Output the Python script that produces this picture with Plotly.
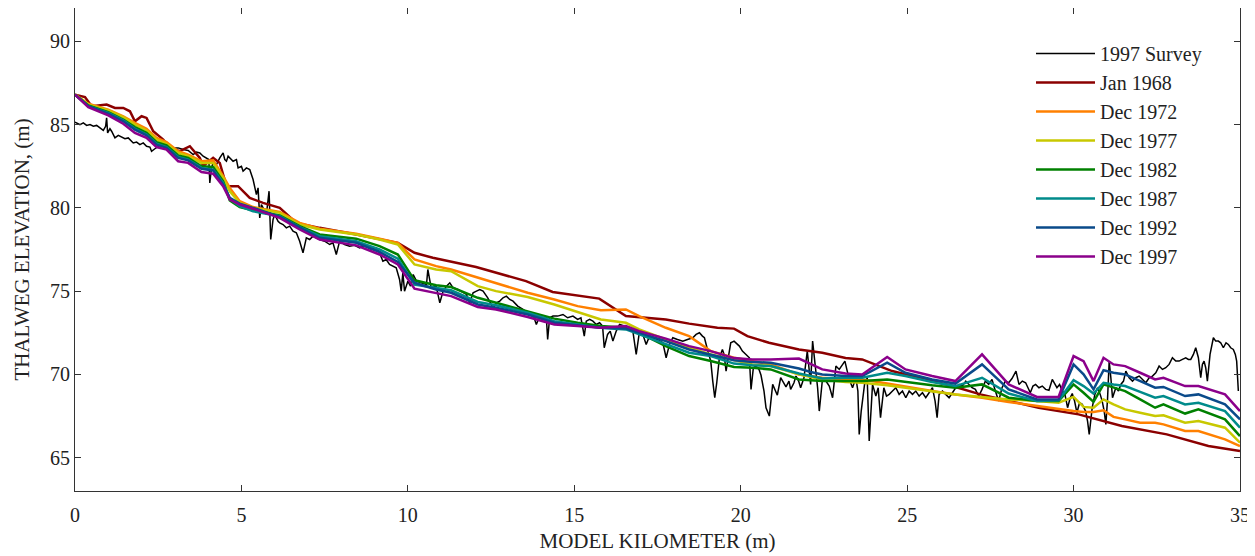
import plotly.graph_objects as go

# ---------------- data ----------------
SERIES_NAMES = ["1997 Survey", "Jan 1968", "Dec 1972", "Dec 1977", "Dec 1982",
                "Dec 1987", "Dec 1992", "Dec 1997"]
COLORS = ["#000000", "#8b0000", "#ff8000", "#c8c800", "#008000",
          "#008b8b", "#0a4a8a", "#8b008b"]

SURVEY_KM = [0.0, 0.08, 0.15, 0.25, 0.35, 0.45, 0.55, 0.65, 0.75, 0.85, 0.92, 0.95, 0.98, 1.05, 1.1, 1.2, 1.3, 1.4, 1.5, 1.6,
             1.75, 1.85, 1.95, 2.05, 2.15, 2.25, 2.3, 2.4, 2.45, 2.55, 2.65, 2.8, 2.95, 3.1, 3.25, 3.4, 3.55, 3.65, 3.75, 3.85,
             3.95, 4.02, 4.05, 4.1, 4.15, 4.25, 4.35, 4.45, 4.5, 4.55, 4.6, 4.65, 4.75, 4.85, 4.9, 5.0, 5.05, 5.15, 5.25, 5.3,
             5.35, 5.45, 5.5, 5.55, 5.6, 5.65, 5.75, 5.83, 5.88, 5.95, 6.0, 6.1, 6.15, 6.25, 6.35, 6.45, 6.55, 6.65, 6.75, 6.85,
             6.95, 7.05, 7.15, 7.25, 7.35, 7.5, 7.65, 7.75, 7.85, 7.95, 8.1, 8.25, 8.4, 8.55, 8.65, 8.75, 8.9, 9.05, 9.15, 9.25,
             9.35, 9.45, 9.55, 9.65, 9.75, 9.8, 9.85, 9.9, 10.0, 10.08, 10.16, 10.26, 10.4, 10.56, 10.6, 10.7, 10.85, 10.96, 11.06, 11.16,
             11.26, 11.36, 11.5, 11.65, 11.76, 11.86, 11.96, 12.06, 12.16, 12.26, 12.4, 12.56, 12.66, 12.76, 12.86, 12.96, 13.06, 13.16, 13.3, 13.46,
             13.6, 13.76, 13.86, 13.96, 14.06, 14.16, 14.2, 14.26, 14.36, 14.5, 14.66, 14.8, 14.96, 15.1, 15.2, 15.3, 15.36, 15.46, 15.56, 15.66,
             15.76, 15.85, 15.9, 16.0, 16.08, 16.16, 16.26, 16.36, 16.5, 16.66, 16.76, 16.86, 16.96, 17.06, 17.16, 17.26, 17.36, 17.5, 17.66, 17.76,
             17.86, 17.96, 18.1, 18.26, 18.4, 18.56, 18.66, 18.76, 18.85, 18.91, 19.0, 19.1, 19.16, 19.22, 19.28, 19.36, 19.45, 19.5, 19.56, 19.62,
             19.7, 19.8, 19.9, 19.96, 20.05, 20.1, 20.2, 20.26, 20.31, 20.38, 20.46, 20.55, 20.61, 20.7, 20.76, 20.86, 20.96, 21.05, 21.1, 21.2,
             21.28, 21.36, 21.45, 21.5, 21.6, 21.66, 21.74, 21.8, 21.9, 22.0, 22.05, 22.1, 22.16, 22.22, 22.26, 22.31, 22.36, 22.41, 22.46, 22.56,
             22.66, 22.76, 22.86, 22.96, 23.06, 23.13, 23.2, 23.28, 23.36, 23.46, 23.52, 23.56, 23.62, 23.66, 23.72, 23.8, 23.86, 23.92, 23.96, 24.06,
             24.13, 24.2, 24.3, 24.38, 24.46, 24.56, 24.66, 24.76, 24.86, 24.96, 25.06, 25.16, 25.26, 25.36, 25.46, 25.56, 25.66, 25.76, 25.84, 25.9,
             25.96, 26.06, 26.16, 26.26, 26.36, 26.46, 26.56, 26.66, 26.76, 26.86, 26.95, 27.05, 27.15, 27.25, 27.35, 27.45, 27.55, 27.65, 27.75, 27.85,
             27.95, 28.05, 28.15, 28.27, 28.36, 28.46, 28.56, 28.63, 28.7, 28.78, 28.86, 28.96, 29.06, 29.16, 29.26, 29.36, 29.43, 29.5, 29.58, 29.66,
             29.74, 29.82, 29.9, 29.96, 30.03, 30.1, 30.18, 30.26, 30.36, 30.42, 30.47, 30.52, 30.56, 30.64, 30.72, 30.8, 30.86, 30.92, 30.97, 31.02,
             31.07, 31.12, 31.17, 31.27, 31.35, 31.42, 31.5, 31.57, 31.67, 31.77, 31.87, 31.97, 32.07, 32.17, 32.27, 32.37, 32.47, 32.57, 32.67, 32.77,
             32.87, 32.97, 33.07, 33.17, 33.27, 33.37, 33.45, 33.52, 33.6, 33.67, 33.75, 33.82, 33.87, 33.92, 33.97, 34.02, 34.1, 34.2, 34.27, 34.35,
             34.42, 34.5, 34.58, 34.65, 34.72, 34.8, 34.86, 34.9, 34.95]
SURVEY_Y = [85.15, 85.05, 85.0, 85.1, 84.95, 85.0, 84.9, 84.95, 84.8, 84.65, 84.9, 85.4, 84.5, 84.75, 84.6, 84.2, 84.35, 84.25, 84.15, 84.2,
            83.9, 83.95, 83.8, 83.9, 83.7, 83.65, 83.4, 83.55, 83.6, 83.75, 83.8, 83.7, 83.6, 83.6, 83.5, 83.45, 83.2, 83.35, 83.3, 83.1,
            83.0, 82.9, 81.5, 82.4, 82.7, 82.6, 83.0, 83.3, 82.9, 82.8, 83.1, 83.0, 82.8, 82.9, 82.4, 82.5, 82.2, 82.4, 82.3, 82.0,
            81.7, 80.8, 81.2, 79.4, 80.2, 80.0, 79.6, 81.0, 78.1, 79.3, 79.6, 79.2, 79.1, 79.0, 78.8, 78.9, 78.6, 78.5, 78.0, 77.3,
            78.2, 78.1, 78.3, 78.2, 78.1, 78.0, 77.8, 77.9, 77.2, 78.0, 77.8, 77.7, 77.75, 77.6, 77.7, 77.7, 77.5, 77.6, 77.3, 76.8,
            76.9, 76.6, 76.5, 76.4, 75.7, 75.0, 76.1, 75.0, 75.6, 75.3, 76.0, 75.6, 75.5, 75.4, 76.3, 75.2, 75.3, 74.3, 75.0, 75.3,
            75.5, 75.2, 75.1, 74.9, 74.8, 74.3, 74.9, 75.0, 75.1, 75.0, 74.6, 74.0, 74.3, 74.4, 74.6, 74.7, 74.5, 74.4, 74.1, 73.9,
            73.7, 73.6, 73.0, 73.5, 73.4, 73.45, 72.1, 73.4, 73.5, 73.5, 73.6, 73.4, 73.5, 73.3, 73.4, 72.3, 73.2, 73.3, 73.2, 73.0,
            73.1, 72.9, 71.6, 72.4, 72.6, 72.0, 72.6, 73.0, 72.9, 72.8, 72.6, 71.2, 72.6, 72.4, 71.8, 72.3, 72.2, 72.1, 71.9, 71.0,
            71.8, 72.2, 72.1, 72.0, 72.1, 72.2, 72.4, 72.5, 72.3, 72.2, 71.5, 70.8, 69.6, 68.6, 69.5, 71.0, 71.5, 71.2, 70.2, 71.0,
            71.9, 72.0, 71.8, 71.7, 71.4, 71.3, 71.1, 71.0, 69.1, 70.4, 70.5, 70.3, 69.95, 69.0, 68.0, 67.5, 69.4, 69.0, 68.75, 69.8,
            69.5, 69.25, 69.6, 69.1, 69.5, 69.9, 69.6, 69.2, 69.8, 71.4, 70.4, 69.4, 72.0, 71.0, 70.4, 69.2, 67.8, 69.0, 69.8, 69.6,
            69.3, 68.6, 70.5, 70.3, 70.6, 70.8, 70.2, 69.6, 69.2, 69.8, 69.0, 66.4, 67.8, 68.6, 69.4, 69.8, 66.0, 68.0, 69.4, 68.7,
            69.2, 67.4, 69.2, 68.7, 68.8, 69.0, 69.2, 68.8, 69.0, 68.6, 69.0, 68.8, 69.0, 68.7, 68.9, 68.6, 68.9, 69.2, 68.4, 67.4,
            68.8, 69.0, 68.8, 68.6, 68.9, 69.2, 69.4, 69.3, 69.6, 69.4, 69.2, 69.1, 68.7, 69.1, 69.6, 69.4, 69.7, 69.0, 68.4, 69.2,
            69.6, 69.5, 69.75, 70.2, 69.4, 69.6, 69.5, 69.2, 68.9, 69.3, 69.4, 69.2, 69.3, 69.1, 69.05, 69.7, 69.4, 69.2, 69.4, 69.0,
            68.8, 68.0, 68.6, 68.85, 68.4, 67.7, 68.3, 68.2, 67.8, 67.2, 66.4, 67.4, 68.0, 68.8, 69.2, 68.8, 68.4, 67.8, 67.0, 68.5,
            70.8, 69.8, 68.6, 69.2, 69.0, 69.4, 69.6, 70.2, 69.8, 69.6, 69.8, 69.9, 69.7, 69.5, 69.8, 69.9, 70.1, 70.5, 70.3, 70.4,
            70.6, 71.0, 70.8, 70.8, 70.9, 71.0, 70.9, 70.9, 71.2, 71.6, 71.0, 69.8, 70.6, 70.8, 70.4, 69.6, 71.2, 72.2, 72.0, 72.0,
            71.9, 71.6, 71.9, 71.8, 71.6, 71.5, 71.2, 70.8, 69.0]

JAN1968_KM = [0, 0.3, 0.5, 0.95, 1.2, 1.45, 1.65, 1.8, 2.0, 2.15, 2.35, 2.65, 2.85, 3.15, 3.45, 3.75, 3.85, 4.15, 4.35, 4.55,
              4.9, 5.25, 5.65, 6.15, 6.65, 7.35, 8.45, 9.7, 10.2, 10.75, 12.05, 13.55, 14.35, 15.75, 16.55, 17.75, 18.45, 19.3, 19.8, 20.2,
              20.85, 21.75, 22.45, 23.15, 23.65, 24.05, 24.55, 25.35, 26.35, 27.2, 28.95, 30.15, 31.45, 32.8, 34.05, 35.0]
JAN1968_Y = [86.8, 86.65, 86.1, 86.2, 86.0, 86.0, 85.8, 85.2, 85.5, 85.4, 84.6, 84.1, 83.6, 83.4, 83.7, 83.0, 82.5, 83.0, 82.7, 81.3,
             81.3, 80.6, 80.3, 80.0, 79.1, 78.8, 78.4, 77.9, 77.3, 77.0, 76.45, 75.6, 74.95, 74.55, 73.5, 73.3, 73.05, 72.8, 72.75, 72.3,
             71.9, 71.5, 71.3, 70.98, 70.9, 70.6, 70.2, 69.8, 69.3, 68.8, 68.0, 67.6, 66.9, 66.4, 65.7, 65.4]

MODEL_KM = [0, 0.4, 1.0, 1.45, 1.8, 2.15, 2.45, 2.75, 3.1, 3.4, 3.8, 4.15, 4.45, 4.65, 4.95, 5.35, 6.15, 6.75, 7.35, 8.45,
            9.15, 9.7, 10.2, 10.85, 11.3, 12.1, 12.65, 13.6, 14.4, 15.1, 15.8, 16.55, 16.95, 17.75, 18.45, 19.1, 19.8, 20.35, 20.9, 21.75,
            22.1, 22.45, 23.15, 23.65, 24.4, 24.95, 25.75, 26.45, 27.25, 28.05, 28.9, 29.55, 30.0, 30.3, 30.6, 30.9, 31.2, 31.55, 32.0, 32.45,
            32.7, 33.35, 33.75, 34.55, 35.0]

DEC1972_Y = [86.8, 86.25, 85.9, 85.5, 85.1, 84.75, 84.2, 83.95, 83.4, 83.2, 82.8, 82.85, 81.9, 81.2, 80.4, 80.05, 79.75, 79.1, 78.75, 78.45,
             78.15, 77.9, 76.9, 76.5, 76.3, 75.8, 75.5, 74.9, 74.5, 74.1, 73.85, 73.9, 73.5, 72.8, 72.3, 71.4, 71.0, 70.8, 70.6, 70.0,
             69.9, 69.8, 69.7, 69.7, 69.45, 69.25, 69.0, 68.8, 68.6, 68.35, 68.1, 67.9, 67.8, 67.75, 67.75, 67.85, 67.45, 67.3, 67.1, 67.1,
             67.0, 66.6, 66.6, 66.1, 65.7]
DEC1977_Y = [86.8, 86.2, 85.85, 85.45, 85.0, 84.65, 84.1, 83.85, 83.3, 83.1, 82.7, 82.7, 81.8, 81.0, 80.3, 80.0, 79.7, 79.0, 78.7, 78.4,
             78.1, 77.8, 76.6, 76.3, 76.2, 75.3, 75.0, 74.65, 74.2, 73.75, 73.3, 73.1, 72.7, 72.1, 71.6, 71.2, 70.85, 70.6, 70.5, 70.0,
             69.85, 69.7, 69.55, 69.5, 69.35, 69.2, 69.0, 68.8, 68.65, 68.5, 68.4, 68.3, 68.65, 68.05, 68.0, 68.5, 68.2, 67.9, 67.7, 67.5,
             67.55, 67.1, 67.2, 66.8, 65.9]
DEC1982_Y = [86.8, 86.15, 85.75, 85.3, 84.85, 84.5, 83.95, 83.75, 83.15, 83.0, 82.5, 82.45, 81.6, 80.45, 80.05, 79.85, 79.55, 78.9, 78.4, 78.15,
             77.7, 77.2, 75.65, 75.35, 75.25, 74.6, 74.3, 73.8, 73.35, 73.1, 72.9, 72.8, 72.5, 71.7, 71.1, 70.8, 70.45, 70.4, 70.3, 69.7,
             69.65, 69.6, 69.6, 69.6, 69.7, 69.55, 69.35, 69.2, 69.4, 68.6, 68.4, 68.4, 69.4, 68.9, 68.35, 69.4, 69.2, 69.0, 68.5, 68.0,
             68.2, 67.65, 67.9, 67.3, 66.3]
DEC1987_Y = [86.8, 86.1, 85.7, 85.25, 84.75, 84.4, 83.85, 83.65, 83.05, 82.9, 82.4, 82.3, 81.5, 80.55, 80.1, 79.8, 79.5, 78.85, 78.3, 78.0,
             77.5, 76.95, 75.4, 75.2, 75.05, 74.35, 74.15, 73.7, 73.2, 73.0, 72.8, 72.7, 72.4, 71.8, 71.3, 71.1, 70.65, 70.55, 70.5, 70.05,
             69.9, 69.75, 69.8, 69.8, 70.1, 69.9, 69.55, 69.3, 69.8, 68.85, 68.4, 68.45, 69.65, 69.3, 68.85, 69.5, 69.4, 69.3, 68.95, 68.6,
             68.7, 68.2, 68.3, 67.8, 66.8]
DEC1992_Y = [86.8, 86.1, 85.65, 85.2, 84.7, 84.35, 83.8, 83.6, 83.0, 82.85, 82.35, 82.25, 81.4, 80.6, 80.25, 80.0, 79.45, 78.8, 78.2, 77.9,
             77.35, 76.75, 75.5, 75.1, 74.9, 74.2, 74.0, 73.6, 73.1, 72.95, 72.8, 72.75, 72.5, 72.0, 71.5, 71.2, 70.85, 70.75, 70.7, 70.35,
             70.15, 70.0, 69.9, 69.9, 70.7, 70.1, 69.7, 69.45, 70.6, 69.1, 68.5, 68.5, 70.6, 70.0, 69.1, 70.25, 70.1, 70.0, 69.6, 69.2,
             69.25, 68.7, 68.8, 68.2, 67.3]
DEC1997_Y = [86.8, 86.05, 85.55, 85.05, 84.5, 84.2, 83.65, 83.5, 82.8, 82.7, 82.15, 82.05, 81.3, 80.5, 80.2, 79.95, 79.4, 78.7, 78.1, 77.75,
             77.2, 76.6, 75.15, 74.9, 74.7, 74.05, 73.9, 73.45, 73.0, 72.9, 72.8, 72.9, 72.6, 72.15, 71.7, 71.4, 70.98, 70.9, 70.9, 70.95,
             70.6, 70.3, 70.05, 70.0, 71.05, 70.3, 69.9, 69.6, 71.2, 69.4, 68.65, 68.65, 71.1, 70.8, 69.6, 71.0, 70.6, 70.5, 70.1, 69.7,
             69.8, 69.3, 69.3, 68.8, 67.8]

X_TICKS = [0, 5, 10, 15, 20, 25, 30, 35]
Y_TICKS = [65, 70, 75, 80, 85, 90]

# ---------------- figure ----------------
FONT = "Liberation Serif, Times New Roman, serif"
TXT = "#222222"
fig = go.Figure()

xs = [SURVEY_KM, JAN1968_KM] + [MODEL_KM] * 6
ys = [SURVEY_Y, JAN1968_Y, DEC1972_Y, DEC1977_Y, DEC1982_Y, DEC1987_Y, DEC1992_Y, DEC1997_Y]
for i, (name, col, x, y) in enumerate(zip(SERIES_NAMES, COLORS, xs, ys)):
    fig.add_trace(go.Scatter(x=x, y=y, mode="lines", name=name,
                             line=dict(color=col, width=1.5 if i == 0 else 2.5)))

axis_common = dict(showline=True, linecolor="#333333", linewidth=1, mirror="ticks",
                   ticks="inside", ticklen=6, tickcolor="#333333", showgrid=False,
                   zeroline=False, automargin=False,
                   tickfont=dict(family=FONT, size=20, color=TXT))

# the page body adds an 8px offset, so margins compensate for it
fig.update_layout(
    width=1255, height=556,
    margin=dict(l=67, r=23, t=0, b=73),
    paper_bgcolor="white", plot_bgcolor="white",
    font=dict(family=FONT, color=TXT),
    xaxis=dict(range=[0, 35], tickvals=X_TICKS, ticklabelstandoff=6,
               title=dict(text="MODEL KILOMETER (m)", font=dict(family=FONT, size=21, color=TXT), standoff=8),
               **axis_common),
    yaxis=dict(range=[63, 92], tickvals=Y_TICKS, ticklabelstandoff=0,
               title=dict(text="THALWEG ELEVATION, (m)", font=dict(family=FONT, size=21, color=TXT), standoff=14),
               **axis_common),
    legend=dict(x=0.8206, y=0.946, xanchor="left", yanchor="top", bgcolor="rgba(0,0,0,0)",
                itemwidth=59,
                font=dict(family=FONT, size=20, color=TXT), tracegroupgap=0),
    showlegend=True,
)

fig.write_html("out.html")
